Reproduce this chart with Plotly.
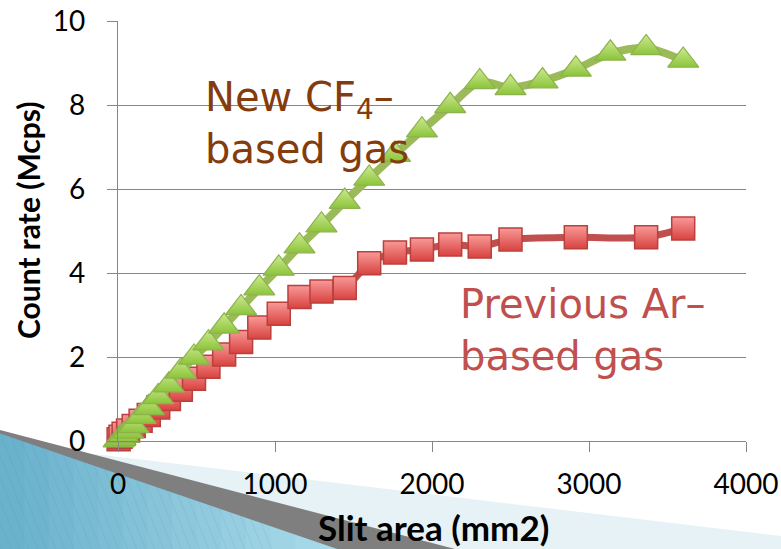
import plotly.graph_objects as go

# ---------------- data ----------------
slit_area_new = [4, 16, 36, 64, 100, 144, 196, 256, 324, 400, 484, 576, 676, 784, 900,
                 1024, 1156, 1296, 1444, 1600, 1764, 1936, 2116, 2304, 2500, 2704,
                 2916, 3136, 3364, 3600]
count_new = [0.02, 0.06, 0.13, 0.23, 0.36, 0.58, 0.79, 1.05, 1.33, 1.66, 1.99, 2.33,
             2.73, 3.17, 3.64, 4.11, 4.64, 5.14, 5.70, 6.25, 6.82, 7.40, 7.98, 8.55,
             8.41, 8.57, 8.85, 9.23, 9.36, 9.06]

slit_area_prev = [4, 16, 36, 64, 100, 144, 196, 256, 324, 400, 484, 576, 676, 784, 900,
                  1024, 1156, 1296, 1444, 1600, 1764, 1936, 2116, 2304, 2500, 2916,
                  3364, 3600]
count_prev = [0.04, 0.10, 0.17, 0.25, 0.36, 0.48, 0.62, 0.80, 1.00, 1.22, 1.48, 1.77,
              2.06, 2.36, 2.70, 3.03, 3.43, 3.56, 3.64, 4.23, 4.49, 4.56, 4.68, 4.63,
              4.80, 4.85, 4.85, 5.06]

x_ticks = [0, 1000, 2000, 3000, 4000]
y_ticks = [0, 2, 4, 6, 8, 10]

# ---------------- layout geometry ----------------
W, H = 781, 549
L, R, T, B = 118, 746, 21, 441


def px(x):
    return (x - L) / (R - L)


def py(y):
    return (B - y) / (B - T)


def poly(points):
    return "M " + " L ".join(f"{px(x):.5f},{py(y):.5f}" for x, y in points) + " Z"


GRID = "#868686"

fig = go.Figure()

fig.add_trace(go.Scatter(
    x=slit_area_prev, y=count_prev, mode="lines+markers",
    line=dict(color="#C0504D", width=7, shape="spline", smoothing=0.8),
    marker=dict(symbol="square", size=23, color="#F89A98",
                gradient=dict(type="vertical", color="#D8423F"),
                line=dict(color="#B9403D", width=1.5)),
    cliponaxis=False, showlegend=False, name="Previous Ar-based gas"))

fig.add_trace(go.Scatter(
    x=slit_area_new, y=count_new, mode="lines+markers",
    line=dict(color="#9BBB59", width=8, shape="spline", smoothing=0.8),
    marker=dict(symbol="triangle-up", size=27, color="#CDEA92",
                gradient=dict(type="vertical", color="#8CC43A"),
                line=dict(color="#8DB24E", width=1.2)),
    cliponaxis=False, showlegend=False, name="New CF4-based gas"))

# ---------------- decoration (bottom-left page curl) ----------------
shapes = []
c0 = (104, 176, 203)
c1 = (172, 220, 235)
n = 14
xa, ya, xb, yb = 0, 433, 345, 549


def top_blue(x):
    return ya + (x - xa) * (yb - ya) / (xb - xa)


for i in range(n):
    x0 = xa + (xb - xa) * i / n
    x1 = xa + (xb - xa) * (i + 1) / n
    t = (i + 0.5) / n
    col = "rgb({},{},{})".format(*[int(c0[k] + (c1[k] - c0[k]) * t) for k in range(3)])
    shapes.append(dict(type="path", xref="paper", yref="paper", layer="below",
                       path=poly([(x0 - 0.5, top_blue(x0 - 0.5)), (x1 + 0.5, top_blue(x1 + 0.5)),
                                  (x1 + 0.5, 552), (x0 - 0.5, 552)]),
                       fillcolor=col, line=dict(width=0)))

# faint diagonal stripes on the blue region
k = 0.4  # dx per dy
slope = (yb - ya) / (xb - xa)
c = -560.0
while c < 60:
    ys = (ya + slope * c) / (1 - slope * k)
    xs = c + k * ys
    if xs < 0:
        xs, ys = 0.0, -c / k
    ye = 552
    xe = c + k * ye
    if ys < ye and xe > 0:
        shapes.append(dict(type="line", xref="paper", yref="paper", layer="below",
                           x0=px(xs), y0=py(ys), x1=px(xe), y1=py(ye),
                           line=dict(color="rgba(70,140,170,0.14)", width=1)))
    c += 9

gx_top0, gy_top0, gx_top1, gy_top1 = 0, 430, 455, 549


def top_gray(x):
    return gy_top0 + (x - gx_top0) * (gy_top1 - gy_top0) / (gx_top1 - gx_top0)


shapes.append(dict(type="path", xref="paper", yref="paper", layer="below",
                   path=poly([(90, top_gray(90)), (781, 536), (783, 552), (455, 552)]),
                   fillcolor="#E6F2F6", line=dict(width=0)))
shapes.append(dict(type="path", xref="paper", yref="paper", layer="below",
                   path=poly([(0, 430), (455, 549), (457, 552), (346, 552), (0, 433.5)]),
                   fillcolor="#7F7F7F", line=dict(width=0)))

# ---------------- annotations ----------------
annotations = [
    dict(text="New CF<sub>4</sub>–<br>based gas", xref="paper", yref="paper",
         x=px(203), y=py(123), xanchor="left", yanchor="middle", showarrow=False,
         align="left", font=dict(family="DejaVu Sans", size=40, color="#843C0C")),
    dict(text="Previous Ar–<br>based gas", xref="paper", yref="paper",
         x=px(458), y=py(330), xanchor="left", yanchor="middle", showarrow=False,
         align="left", font=dict(family="DejaVu Sans", size=40, color="#C0504D")),
    dict(text="<b>Count rate (Mcps)</b>", xref="paper", yref="paper",
         x=px(28), y=py(220), xanchor="center", yanchor="middle", textangle=-90,
         showarrow=False, font=dict(family="Lato", size=30, color="#000000")),
    dict(text="<b>Slit area (mm2)</b>", xref="paper", yref="paper",
         x=px(433), y=py(527), xanchor="center", yanchor="middle",
         showarrow=False, font=dict(family="Lato", size=35, color="#000000")),
]

fig.update_layout(
    width=W, height=H,
    margin=dict(l=L, r=W - R, t=T, b=H - B, pad=0, autoexpand=False),
    paper_bgcolor="white", plot_bgcolor="rgba(0,0,0,0)",
    shapes=shapes, annotations=annotations,
    font=dict(family="Lato", size=28, color="#000000"),
    xaxis=dict(range=[0, 4000], tickvals=x_ticks, ticktext=[str(v) for v in x_ticks],
               automargin=False,
               showgrid=False, zeroline=False, showline=True, linecolor=GRID, linewidth=1.3,
               ticks="outside", ticklen=10, tickcolor=GRID, tickwidth=1.3,
               ticklabelstandoff=8, tickfont=dict(family="Lato", size=28)),
    yaxis=dict(range=[0, 10], tickvals=y_ticks, ticktext=[str(v) for v in y_ticks],
               automargin=False,
               showgrid=True, gridcolor=GRID, gridwidth=1.3, zeroline=False,
               showline=True, linecolor=GRID, linewidth=1.3,
               ticks="outside", ticklen=10, tickcolor=GRID, tickwidth=1.3,
               ticklabelstandoff=16, tickfont=dict(family="Lato", size=28)),
)

fig.write_html("out.html")
